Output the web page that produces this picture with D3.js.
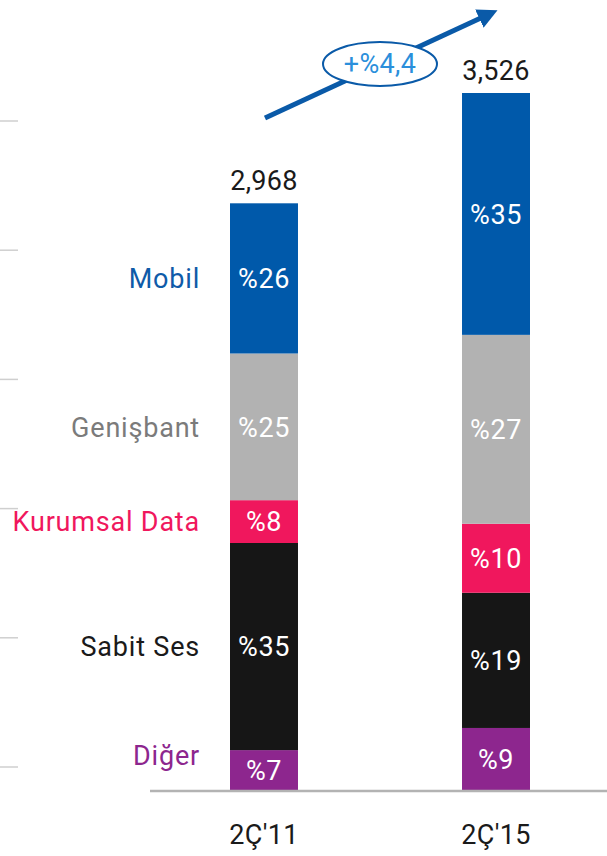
<!DOCTYPE html>
<html>
<head>
<meta charset="utf-8">
<script src="https://cdn.jsdelivr.net/npm/d3@7"></script>
<style>
  body { margin: 0; background: #fff; }
  text { font-family: Roboto, "Noto Sans", sans-serif; font-weight: 400; }
</style>
</head>
<body>
<svg id="chart"></svg>
<script>
var periods  = ["2Ç'11", "2Ç'15"];
var totals   = [2968, 3526];
var totalLabels = ["2,968", "3,526"];
var segments = ["Diğer", "Sabit Ses", "Kurumsal Data", "Genişbant", "Mobil"];
// share of each segment in each bar, bottom to top
var shares2011 = [6.8, 35.3, 7.3, 25.0, 25.6];
var shares2015 = [8.9, 19.4, 9.9, 27.1, 34.7];
var labels2011 = ["%7", "%35", "%8", "%25", "%26"];
var labels2015 = ["%9", "%19", "%10", "%27", "%35"];
var growthLabel = "+%4,4";
var sideTicks = [0, 1, 2, 3, 4, 5];

var width = 607, height = 856;
var colors = ["#8d268e", "#161616", "#f0175d", "#b2b2b2", "#0059aa"];
var labelColors = ["#8d268e", "#1a1a1a", "#f0175d", "#7b7b7b", "#0f5ba8"];

var svg = d3.select('#chart')
            .attr('width', width)
            .attr('height', height);

var x = d3.scaleBand()
          .domain(periods)
          .range([114, 646])
          .paddingInner(0.707)
          .paddingOuter(0.5);

var y = d3.scaleLinear()
          .domain([0, 3526])
          .range([790, 93]);

// decorative ticks on the left edge
var tickScale = d3.scaleLinear().domain([0, 5]).range([121, 767]);
svg.append('g')
   .selectAll('line')
   .data(sideTicks)
   .enter().append('line')
   .attr('x1', 0).attr('x2', 18)
   .attr('y1', function(d){ return tickScale(d); })
   .attr('y2', function(d){ return tickScale(d); })
   .attr('stroke', '#cfcfcf')
   .attr('stroke-width', 1.5);

// build stacked rows
var allShares = [shares2011, shares2015];
var allLabels = [labels2011, labels2015];
var rows = [];
periods.forEach(function(p, i){
  var sum = d3.sum(allShares[i]);
  var acc = 0;
  allShares[i].forEach(function(s, j){
    var v = totals[i] * s / sum;
    rows.push({period: p, seg: j, y0: acc, y1: acc + v, label: allLabels[i][j]});
    acc += v;
  });
});

var bars = svg.append('g');
bars.selectAll('rect')
    .data(rows)
    .enter().append('rect')
    .attr('x', function(d){ return x(d.period); })
    .attr('width', x.bandwidth())
    .attr('y', function(d){ return y(d.y1); })
    .attr('height', function(d){ return y(d.y0) - y(d.y1); })
    .attr('fill', function(d){ return colors[d.seg]; });

bars.selectAll('text')
    .data(rows)
    .enter().append('text')
    .attr('x', function(d){ return x(d.period) + x.bandwidth() / 2; })
    .attr('y', function(d){ return (y(d.y0) + y(d.y1)) / 2; })
    .attr('dy', '0.36em')
    .attr('text-anchor', 'middle')
    .attr('fill', '#fff')
    .style('font-size', '27px')
    .style('letter-spacing', '0.6px')
    .text(function(d){ return d.label; });

// totals above bars
svg.append('g').selectAll('text')
   .data(periods)
   .enter().append('text')
   .attr('x', function(d){ return x(d) + x.bandwidth() / 2; })
   .attr('y', function(d, i){ return y(totals[i]) - 13; })
   .attr('text-anchor', 'middle')
   .attr('fill', '#1a1a1a')
   .style('font-size', '27px')
   .style('letter-spacing', '0.3px')
   .text(function(d, i){ return totalLabels[i]; });

// segment names on the left, against the first bar
var first = rows.filter(function(d){ return d.period === periods[0]; });
svg.append('g').selectAll('text')
   .data(first)
   .enter().append('text')
   .attr('x', 200)
   .attr('y', function(d){
     var mid = (y(d.y0) + y(d.y1)) / 2;
     return d.seg === 0 ? mid - 15 : mid;
   })
   .attr('dy', '0.36em')
   .attr('text-anchor', 'end')
   .attr('fill', function(d){ return labelColors[d.seg]; })
   .style('font-size', '27px')
   .style('letter-spacing', '0.8px')
   .text(function(d){ return segments[d.seg]; });

// baseline
svg.append('line')
   .attr('x1', 150).attr('x2', width)
   .attr('y1', y(0) + 1).attr('y2', y(0) + 1)
   .attr('stroke', '#b3b3b3')
   .attr('stroke-width', 2.5);

// x axis labels
var xAxis = d3.axisBottom(x).tickSize(0).tickPadding(0);
var xg = svg.append('g')
   .attr('transform', 'translate(0,' + 825 + ')')
   .call(xAxis);
xg.select('.domain').remove();
xg.selectAll('text')
  .attr('fill', '#1a1a1a')
  .style('font-size', '27px')
  .style('letter-spacing', '0.3px')
  .style('font-family', 'Roboto, sans-serif');

// growth arrow
var defs = svg.append('defs');
defs.append('marker')
    .attr('id', 'head')
    .attr('viewBox', '0 0 10 10')
    .attr('refX', 2).attr('refY', 5)
    .attr('markerWidth', 4).attr('markerHeight', 4)
    .attr('orient', 'auto')
    .append('path')
    .attr('d', 'M0,0 L10,5 L0,10 Z')
    .attr('fill', '#0a5aa8');

svg.append('line')
   .attr('x1', 265).attr('y1', 118)
   .attr('x2', 483).attr('y2', 17)
   .attr('stroke', '#0a5aa8')
   .attr('stroke-width', 5)
   .attr('marker-end', 'url(#head)');

svg.append('ellipse')
   .attr('cx', 380).attr('cy', 64)
   .attr('rx', 57).attr('ry', 22)
   .attr('fill', '#fff')
   .attr('stroke', '#0a5aa8')
   .attr('stroke-width', 2);

svg.append('text')
   .attr('x', 380).attr('y', 63)
   .attr('dy', '0.36em')
   .attr('text-anchor', 'middle')
   .attr('fill', '#2b8fdb')
   .style('font-size', '27px')
   .style('letter-spacing', '0.3px')
   .text(growthLabel);
</script>
</body>
</html>
